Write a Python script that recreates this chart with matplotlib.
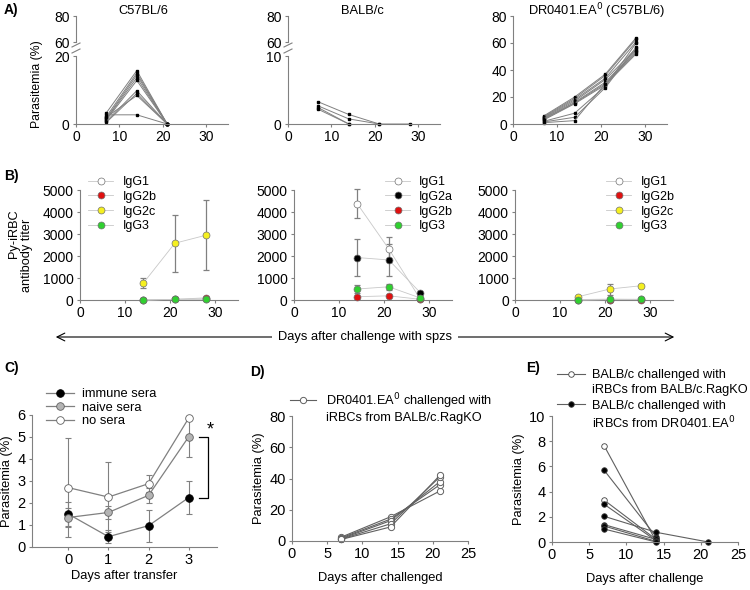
import numpy as np
import matplotlib.pyplot as plt
from matplotlib.lines import Line2D

plt.rcParams['font.family'] = ['Liberation Sans', 'DejaVu Sans']
plt.rcParams['font.size'] = 9

W, H = 750, 590

# ---------- data ----------
# A) parasitemia after sporozoite challenge (one row per mouse)
a_days3 = [7, 14, 21]
a_days4 = [7, 14, 21, 28]
c57 = [[3.3, 15.7, 0], [2.2, 15.0, 0], [1.7, 14.4, 0], [1.5, 13.6, 0],
       [1.2, 12.8, 0], [0.8, 9.8, 0], [0.5, 9.0, 0], [2.0, 8.4, 0], [2.7, 2.7, 0]]
balbc = [[3.25, 1.4, 0, 0], [2.65, 0.75, 0, np.nan], [2.4, 0, np.nan, np.nan],
         [2.15, 0, np.nan, np.nan]]
dr0401 = [[6, 20, 37, 64], [5.5, 19, 36, 63], [5, 18, 34, 61], [4.5, 17, 33, 56],
          [4, 16, 31, 55], [3.5, 15.5, 30, 53], [3, 15, 29, 52], [2, 8, 28, 60],
          [1.5, 5, 27, 57], [1, 2.5, 30, 54]]

# B) antibody titers (mean, error) on days 14, 21, 28
b_days = [14, 21, 28]
b_c57 = {'IgG1': ([0, 30, 50], [0, 0, 0]),
         'IgG2b': ([0, 30, 100], [0, 0, 0]),
         'IgG2c': ([760, 2580, 2950], [230, 1290, 1600]),
         'IgG3': ([0, 30, 30], [0, 0, 0])}
b_balb = {'IgG1': ([4380, 2320, 30], [650, 550, 0]),
          'IgG2a': ([1930, 1820, 330], [850, 720, 0]),
          'IgG2b': ([150, 190, 30], [0, 0, 0]),
          'IgG3': ([500, 600, 90], [200, 130, 0])}
b_dr = {'IgG1': ([0, 20, 30], [0, 0, 0]),
        'IgG2b': ([0, 20, 20], [0, 0, 0]),
        'IgG2c': ([150, 500, 650], [0, 250, 0]),
        'IgG3': ([20, 40, 30], [0, 0, 0])}
iso_colors = {'IgG1': 'white', 'IgG2a': 'black', 'IgG2b': '#e01010',
              'IgG2c': '#f5f020', 'IgG3': '#30d030'}

# C) passive transfer
c_days = [0, 1, 2, 3]
c_immune = [1.5, 0.47, 0.97, 2.25]
c_immune_err = [0.55, 0.3, 0.73, 0.77]
c_naive = [1.34, 1.57, 2.35, 5.02]
c_naive_err = [0.45, 0.3, 0.33, 0.92]
c_none = [2.7, 2.27, 2.88, 5.87]
c_none_err = [2.25, 1.6, 0.4, 0]

# D) DR0401.EA0 challenged with iRBCs from BALB/c.RagKO
d_days = [7, 14, 21]
d_mice = [[2.5, 15.5, 32], [2, 14, 36], [1.5, 13, 38], [1.2, 11, 41], [1, 9, 42]]

# E) BALB/c challenged with iRBCs
e_days = [7, 14, 21]
e_rag = [[7.65, 0.05, np.nan], [3.33, 0.2, np.nan]]
e_dr = [[5.7, 0.42, np.nan], [3.0, 0.1, np.nan], [2.04, 0.77, 0],
        [1.38, 0.2, np.nan], [1.27, 0.05, np.nan], [1.03, 0, np.nan]]

GRAY = '#808080'
fig = plt.figure(figsize=(7.5, 5.9), dpi=100)
blank = Line2D([], [], lw=0)


def add_ax(x0, x1, ytop, ybot, ls=10):
    ax = fig.add_axes([x0 / W, 1 - ybot / H, (x1 - x0) / W, (ybot - ytop) / H])
    for s in ['top', 'right']:
        ax.spines[s].set_visible(False)
    for s in ['left', 'bottom']:
        ax.spines[s].set_color(GRAY)
        ax.spines[s].set_linewidth(0.8)
    ax.tick_params(length=2.5, width=0.8, color=GRAY, labelsize=ls, pad=2)
    ax.patch.set_alpha(0)
    return ax


def fx(px):
    return px / W


def fy(py):
    return 1 - py / H


# ---------- A ----------
def panel_a(x0, x1, mice, days, top, broken):
    if broken:
        up = add_ax(x0, x1, 16, 42)
        up.set_ylim(60, 80)
        up.set_yticks([60, 80])
        up.set_xlim(0, 35)
        up.spines['bottom'].set_visible(False)
        up.set_xticks([])
        lo = add_ax(x0, x1, 56, 124)
        lo.set_ylim(0, top)
        lo.set_yticks([0, top])
        # break marks
        for yy in (45, 51):
            fig.add_artist(Line2D([fx(x0 - 4), fx(x0 + 4)], [fy(yy + 2), fy(yy - 2)],
                                  color=GRAY, lw=0.8))
    else:
        lo = add_ax(x0, x1, 16, 124)
        lo.set_ylim(0, 80)
        lo.set_yticks([0, 20, 40, 60, 80])
    lo.set_xlim(0, 35)
    lo.set_xticks([0, 10, 20, 30])
    for m in mice:
        lo.plot(days, m, color=GRAY, lw=0.7, marker='s', ms=1.8,
                mfc='black', mec='black', clip_on=False)
    return lo


panel_a(76, 228, c57, a_days3, 20, True)
panel_a(288, 440, balbc, a_days4, 10, True)
panel_a(513, 667, dr0401, a_days4, 80, False)
for t, x in [('C57BL/6', 143), ('BALB/c', 362), ('DR0401.EA$^0$ (C57BL/6)', 597)]:
    fig.text(fx(x), fy(11), t, ha='center', va='center', fontsize=9.3)
fig.text(fx(37), fy(84), 'Parasitemia (%)', rotation=90, ha='center', va='center',
         fontsize=8.8)


# ---------- B ----------
def panel_b(x0, x1, data, leg_x):
    ax = add_ax(x0, x1, 190, 300)
    ax.set_ylim(0, 5000)
    ax.set_xlim(0, 35)
    ax.set_xticks([0, 10, 20, 30])
    ax.set_yticks([0, 1000, 2000, 3000, 4000, 5000])
    handles = []
    for name, (mean, err) in data.items():
        ax.errorbar(b_days, mean, yerr=err, color=GRAY, lw=0, elinewidth=0.9,
                    capsize=2.5, capthick=0.9, clip_on=False, zorder=2)
        h, = ax.plot(b_days, mean, color='#c8c8c8', lw=0.6, marker='o', ms=5,
                     mfc=iso_colors[name], mec='#707070', mew=0.5,
                     label=name, clip_on=False, zorder=3)
        handles.append(h)
    ax.legend(handles=handles, loc='upper left', bbox_to_anchor=(fx(leg_x), fy(176)),
              bbox_transform=fig.transFigure, frameon=False, fontsize=9,
              handlelength=2.0, handletextpad=0.75, labelspacing=0.22,
              borderpad=0, borderaxespad=0)
    return ax


panel_b(80, 238, b_c57, 88)
panel_b(294, 452, b_balb, 385)
panel_b(515, 673, b_dr, 606)
fig.text(fx(14), fy(234), 'Py-iRBC', rotation=90, ha='center', va='center', fontsize=9.2)
fig.text(fx(27), fy(255), 'antibody titer', rotation=90, ha='center', va='center',
         fontsize=9.2)

# arrow
fig.add_artist(plt.Annotation('', xy=(fx(53), fy(337)), xytext=(fx(677), fy(337)),
                              xycoords='figure fraction',
                              arrowprops=dict(arrowstyle='<->', color='black', lw=0.8,
                                              mutation_scale=14)))
fig.text(fx(365), fy(337), 'Days after challenge with spzs', ha='center', va='center',
         fontsize=9.3, bbox=dict(facecolor='white', edgecolor='none', pad=4))

# ---------- C ----------
axc = add_ax(32, 217, 415, 547, ls=10.5)
axc.set_xlim(-0.9, 3.7)
axc.set_ylim(0, 6)
axc.set_xticks(c_days)
axc.set_yticks(range(7))
hc = []
for vals, err, fc, lab in [(c_immune, c_immune_err, 'black', 'immune sera'),
                           (c_naive, c_naive_err, '#b4b4b4', 'naive sera'),
                           (c_none, c_none_err, 'white', 'no sera')]:
    axc.errorbar(c_days, vals, yerr=err, color=GRAY, lw=0, elinewidth=0.8,
                 capsize=2.5, capthick=0.8, clip_on=False, zorder=2)
    h, = axc.plot(c_days, vals, color=GRAY, lw=0.9, marker='o', ms=5.5, mfc=fc,
                  mec='#606060' if fc != 'black' else 'black', mew=0.6,
                  label=lab, clip_on=False, zorder=3)
    hc.append(h)
axc.legend(handles=hc, loc='upper left', bbox_to_anchor=(fx(46), fy(388)),
           bbox_transform=fig.transFigure, frameon=False, fontsize=9.3,
           handlelength=2.2, handletextpad=0.55, labelspacing=0.12,
           borderpad=0, borderaxespad=0)
axc.plot([3.25, 3.47, 3.47, 3.25], [5.02, 5.02, 2.25, 2.25], color='black', lw=0.9,
         clip_on=False)
axc.text(3.52, 5.3, '*', fontsize=13, ha='center', va='center')
axc.set_ylabel('Parasitemia (%)', fontsize=9.3, labelpad=3)
axc.set_xlabel('Days after transfer', fontsize=9.3, labelpad=2)

# ---------- D ----------
axd = add_ax(292, 468, 416, 541, ls=10.5)
axd.set_xlim(0, 25)
axd.set_ylim(0, 80)
axd.set_xticks([0, 5, 10, 15, 20, 25])
axd.set_yticks([0, 20, 40, 60, 80])
hd = None
for m in d_mice:
    hd, = axd.plot(d_days, m, color='#606060', lw=0.8, marker='o', ms=4.5, mfc='white',
                   mec='#606060', mew=0.7, clip_on=False)
axd.legend([hd, blank], ['DR0401.EA$^0$ challenged with', 'iRBCs from BALB/c.RagKO'],
           loc='upper left', bbox_to_anchor=(fx(290), fy(391)),
           bbox_transform=fig.transFigure, frameon=False, fontsize=9.2,
           handlelength=2.0, handletextpad=0.8, labelspacing=0.12,
           borderpad=0, borderaxespad=0)
axd.set_ylabel('Parasitemia (%)', fontsize=9.3, labelpad=3)
axd.set_xlabel('Days after challenged', fontsize=9.3, labelpad=8)

# ---------- E ----------
axe = add_ax(552, 738, 416, 542, ls=10.5)
axe.set_xlim(0, 25)
axe.set_ylim(0, 10)
axe.set_xticks([0, 5, 10, 15, 20, 25])
axe.set_yticks([0, 2, 4, 6, 8, 10])
he = []
for group, fc in [(e_rag, 'white'), (e_dr, 'black')]:
    for m in group:
        h, = axe.plot(e_days, m, color='#606060', lw=0.8, marker='o', ms=4,
                      mfc=fc, mec='#404040', mew=0.6, clip_on=False)
    he.append(h)
axe.legend([he[0], blank, he[1], blank],
           ['BALB/c challenged with', 'iRBCs from BALB/c.RagKO',
            'BALB/c challenged with', 'iRBCs from DR0401.EA$^0$'],
           loc='upper left', bbox_to_anchor=(fx(557), fy(369)),
           bbox_transform=fig.transFigure, frameon=False, fontsize=9.2,
           handlelength=2.2, handletextpad=0.55, labelspacing=0.26,
           borderpad=0, borderaxespad=0)
axe.set_ylabel('Parasitemia (%)', fontsize=9.3, labelpad=3)
axe.set_xlabel('Days after challenge', fontsize=9.3, labelpad=8)

# panel letters
for lab, x, y in [('A)', 4, 10), ('B)', 4, 176), ('C)', 4, 368), ('D)', 250, 372),
                  ('E)', 526, 368)]:
    fig.text(fx(x), fy(y), lab, fontsize=10, fontweight='bold', ha='left', va='center')

fig.savefig('out.png', dpi=100)
